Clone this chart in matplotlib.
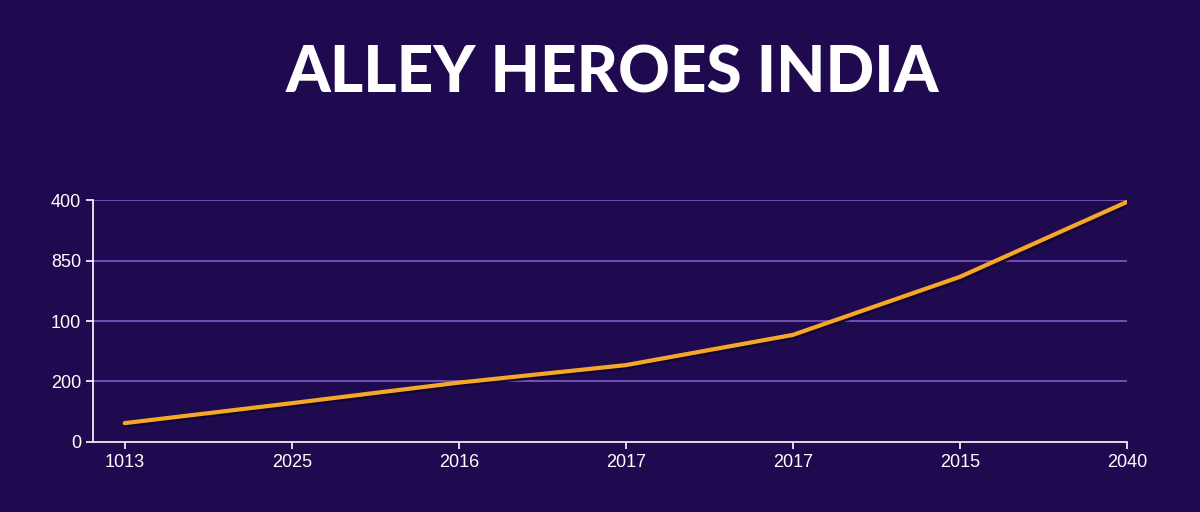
import matplotlib.pyplot as plt
import matplotlib.patheffects as pe

# data (y in gridline units, labels as shown)
x_labels = ['1013', '2025', '2016', '2017', '2017', '2015', '2040']
y_labels = ['0', '200', '100', '850', '400']
values = [0.31, 0.64, 0.98, 1.27, 1.77, 2.73, 3.97]

bg = '#1f0a4f'
fig = plt.figure(figsize=(12, 5.12), dpi=100, facecolor=bg)
ax = fig.add_axes([0.0775, 0.137, 0.8615, 0.472])
ax.set_facecolor(bg)

xs = list(range(len(values)))
ax.plot(xs, values, color='#f7a728', linewidth=3, solid_capstyle='round',
        path_effects=[pe.SimpleLineShadow(offset=(1.5, -1.5), shadow_color='#120530', alpha=0.9), pe.Normal()])

ax.set_xlim(-0.19, 6)
ax.set_ylim(0, 4)
ax.set_xticks(xs)
ax.set_xticklabels(x_labels)
ax.set_yticks(range(len(y_labels)))
ax.set_yticklabels(y_labels)
for y in range(1, len(y_labels)):
    ax.axhline(y, color='#7b5cc4', linewidth=1.2, zorder=0)

for s in ['top', 'right']:
    ax.spines[s].set_visible(False)
for s in ['left', 'bottom']:
    ax.spines[s].set_color('white')
    ax.spines[s].set_linewidth(1.2)
ax.tick_params(colors='white', labelsize=13, length=5, width=1.2)
for lbl in ax.get_xticklabels() + ax.get_yticklabels():
    lbl.set_family('Liberation Sans')

fig.text(0.51, 0.855, 'ALLEY HEROES INDIA', color='white', fontsize=46,
         fontweight='black', family='Lato', ha='center', va='center')

plt.savefig('out.png', facecolor=bg)
